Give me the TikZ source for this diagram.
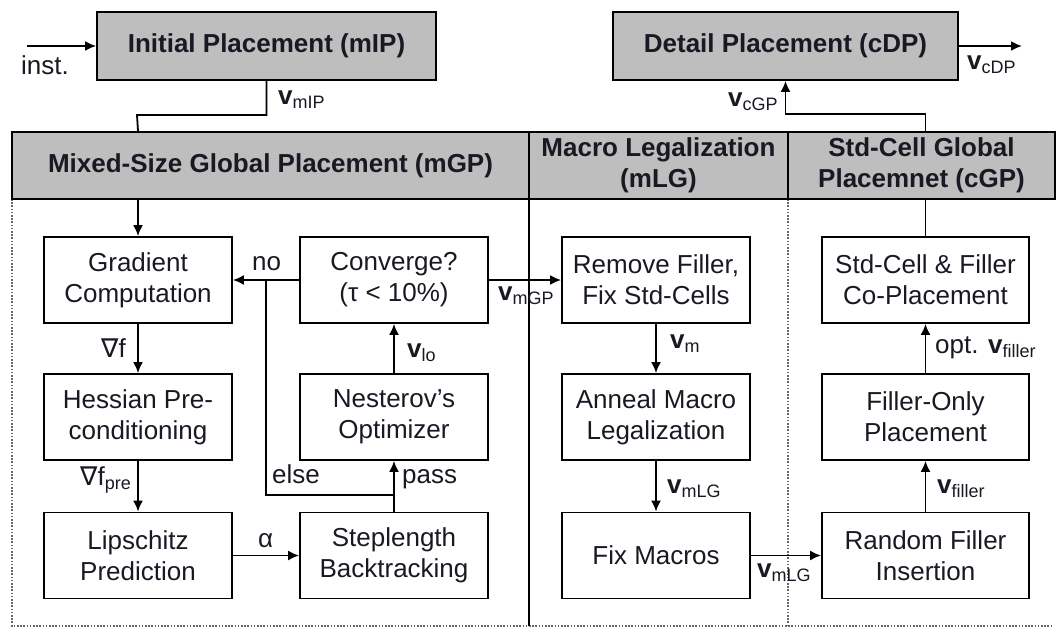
\documentclass[tikz,border=0pt]{standalone}
\usepackage{fontspec}
\setmainfont{Liberation Sans}
\newfontfamily\dvfont{DejaVu Sans}
\usetikzlibrary{arrows.meta}
\definecolor{hdr}{RGB}{190,190,190}
\definecolor{txt}{RGB}{25,25,35}
\newcommand\vsb[1]{\textbf{v}\raisebox{-4pt}{\fontsize{18}{18}\selectfont #1}}
\begin{document}
\begin{tikzpicture}[x=1pt,y=-1pt,
 box/.style={draw, line width=1.8pt, minimum width=188pt, minimum height=86pt, inner sep=0pt, align=center, text=txt, font=\fontsize{26}{31}\selectfont},
 hbox/.style={draw, line width=1.8pt, fill=hdr, inner sep=0pt, align=center, text=txt, font=\fontsize{26}{31}\selectfont\bfseries},
 lab/.style={anchor=base west, inner sep=0pt, text=txt, font=\fontsize{26}{31}\selectfont},
 arr/.style={line width=1.8pt, -{Latex[length=11pt,width=10pt]}},
 ln/.style={line width=1.8pt},
 dotl/.style={gray!80!black, line width=1.6pt, dash pattern=on 1.6pt off 1.6pt}]
\useasboundingbox (0,0) rectangle (1057,631);
% frames
\draw[dotl] (12,199) -- (12,626) -- (1052,626);
\draw[dotl] (788,199) -- (788,626);
\draw[ln] (529,199) -- (529,626);
% top boxes
\node[hbox, minimum width=339pt, minimum height=68pt] (ip) at (266.5,46) {Initial Placement (mIP)};
\node[hbox, minimum width=345pt, minimum height=68pt] (dp) at (785.5,46) {Detail Placement (cDP)};
% headers
\node[hbox, minimum width=517pt, minimum height=67pt] (mgp) at (270.5,165.5) {Mixed-Size Global Placement (mGP)};
\node[hbox, minimum width=259pt, minimum height=67pt] (mlg) at (658.5,165.5) {Macro Legalization\\(mLG)};
\node[hbox, minimum width=267pt, minimum height=67pt] (cgp) at (921.5,165.5) {Std-Cell Global\\Placemnet (cGP)};
% mGP boxes
\node[box] (grad) at (138,280) {Gradient\\Computation};
\node[box] (hess) at (138,417) {Hessian Pre-\\conditioning};
\node[box] (lip) at (138,555.5) {Lipschitz\\Prediction};
\node[box] (conv) at (394,280) {Converge?\\(τ < 10\%)};
\node[box] (nest) at (394,417) {Nesterov's\\Optimizer};
\node[box] (slb) at (394,555.5) {Steplength\\Backtracking};
% mLG boxes
\node[box] (rf) at (656,280) {Remove Filler,\\Fix Std-Cells};
\node[box] (am) at (656,417) {Anneal Macro\\Legalization};
\node[box] (fm) at (656,555.5) {Fix Macros};
% cGP boxes
\node[box, minimum width=207pt] (sc) at (925.5,280) {Std-Cell \& Filler\\Co-Placement};
\node[box, minimum width=207pt] (fo) at (925.5,417) {Filler-Only\\Placement};
\node[box, minimum width=207pt] (rfi) at (925.5,555.5) {Random Filler\\Insertion};
% coordinates
\coordinate (instS) at (27,46);
\coordinate (cdpE) at (1022,46);
\coordinate (mipJ) at (137,115);
\coordinate (elseJ) at (394,495);
\coordinate (elseT) at (266,280);
% connectors
\draw[arr] (instS) -- (ip.west);
\draw[arr] (dp.east) -- (cdpE);
\draw[ln] (ip.south) |- (mipJ) -- (grad.north |- mgp.north);
\draw[arr] (grad.north |- mgp.south) -- (grad.north);
\draw[arr] (grad) -- (hess);
\draw[arr] (hess) -- (lip);
\draw[arr] (lip) -- (slb);
\draw[arr] (slb) -- (nest);
\draw[arr] (nest) -- (conv);
\draw[arr] (conv) -- (grad);
\draw[ln] (elseJ) -| (elseT);
\draw[arr] (conv) -- (rf);
\draw[arr] (rf) -- (am);
\draw[arr] (am) -- (fm);
\draw[arr] (fm) -- (rfi);
\draw[arr] (rfi) -- (fo);
\draw[arr] (fo) -- (sc);
\draw[ln] (sc.north) -- (sc.north |- cgp.south);
\draw[arr] (sc.north |- cgp.north) -- ++(0,-17) -| (dp.south);
% labels
\node[lab] (linst) at (21,75) {inst.};
\node[lab] (lvmip) at (278,105) {\vsb{mIP}};
\node[lab] (lvcgp) at (728,107) {\vsb{cGP}};
\node[lab] (lvcdp) at (967,70) {\vsb{cDP}};
\node[lab] (lgf) at (101,357) {{\dvfont ∇}f};
\node[lab] (lgfp) at (80,485) {{\dvfont ∇}f\raisebox{-4pt}{\fontsize{18}{18}\selectfont pre}};
\node[lab] (lalpha) at (258,547) {α};
\node[lab] (lpass) at (402,483) {pass};
\node[lab] (lelse) at (272,483) {else};
\node[lab] (lno) at (252,270) {no};
\node[lab] (lvlo) at (407,357) {\vsb{lo}};
\node[lab] (lvmgp) at (498,300) {\vsb{mGP}};
\node[lab] (lvm) at (670,348) {\vsb{m}};
\node[lab] (lvmlg) at (667,493) {\vsb{mLG}};
\node[lab] (lvmlgb) at (757,577) {\vsb{mLG}};
\node[lab] (lvf) at (937,493) {\vsb{filler}};
\node[lab] (lopt) at (935,353) {opt. \vsb{filler}};
\end{tikzpicture}
\end{document}
